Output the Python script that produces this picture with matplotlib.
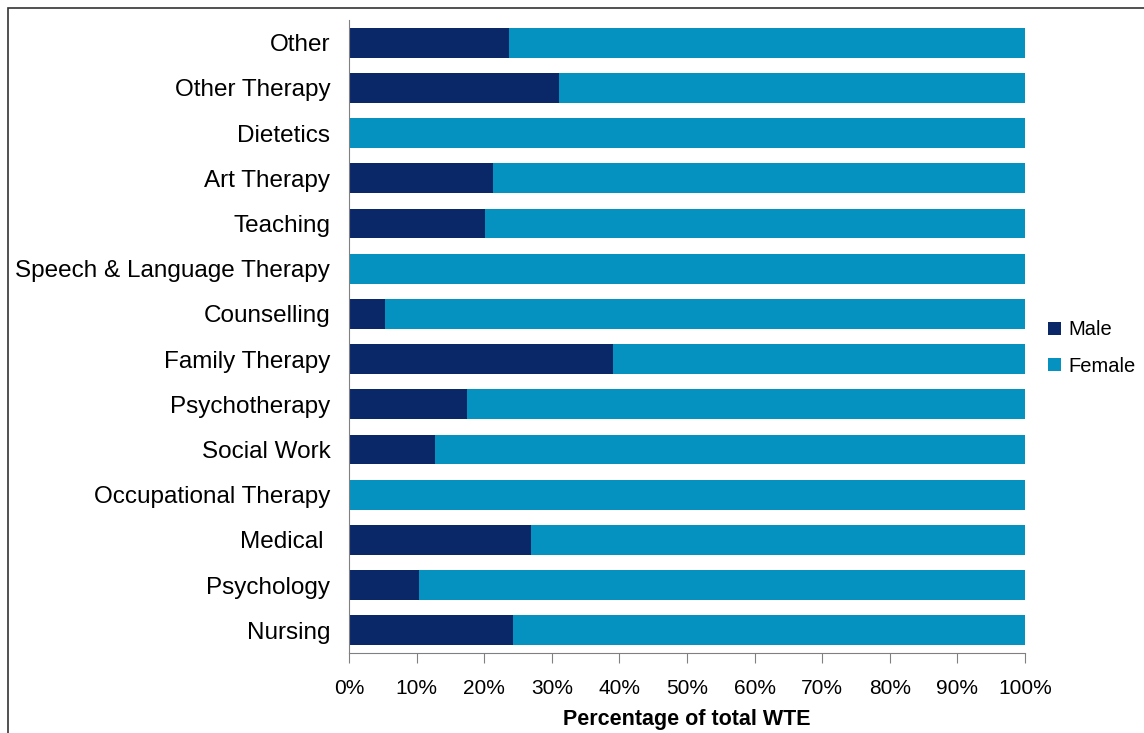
import matplotlib.pyplot as plt
from matplotlib.patches import Rectangle
from matplotlib.ticker import PercentFormatter

plt.rcParams['font.family'] = ['Liberation Sans', 'DejaVu Sans']

categories = ['Nursing', 'Psychology', 'Medical ', 'Occupational Therapy', 'Social Work',
              'Psychotherapy', 'Family Therapy', 'Counselling', 'Speech & Language Therapy',
              'Teaching', 'Art Therapy', 'Dietetics', 'Other Therapy', 'Other']
male = [24.3, 10.4, 26.9, 0, 12.7, 17.5, 39.1, 5.3, 0, 20.1, 21.3, 0, 31.1, 23.7]
female = [100 - m for m in male]

male_color = '#0a2868'
female_color = '#0592c0'

fig = plt.figure(figsize=(11.44, 7.33), dpi=100)
ax = fig.add_axes([349 / 1144, 1 - 653 / 733, 676 / 1144, 633 / 733])

y = range(len(categories))
ax.barh(y, male, height=0.66, color=male_color, label='Male')
ax.barh(y, female, left=male, height=0.66, color=female_color, label='Female')

ax.set_xlim(0, 100)
ax.set_ylim(-0.5, len(categories) - 0.5)
ax.set_yticks(list(y))
ax.set_yticklabels(categories, fontsize=17.5)
ax.set_xticks(range(0, 101, 10))
ax.xaxis.set_major_formatter(PercentFormatter(decimals=0))
ax.tick_params(axis='x', labelsize=15, length=7, color='#808080', pad=12)
ax.tick_params(axis='y', length=0, pad=13.5)
ax.set_xlabel('Percentage of total WTE', fontsize=15.5, fontweight='bold', labelpad=8)

for s in ['top', 'right']:
    ax.spines[s].set_visible(False)
for s in ['left', 'bottom']:
    ax.spines[s].set_color('#808080')

ax.legend(loc='center left', bbox_to_anchor=(1040 / 1144, 1 - 348 / 733),
          bbox_transform=fig.transFigure, frameon=False, fontsize=14.5,
          handlelength=0.65, handleheight=0.65, handletextpad=0.35, labelspacing=0.85,
          borderaxespad=0)

fig.patches.append(Rectangle((8 / 1144, -0.1), 1.2, 1 - 8 / 733 + 0.1,
                             transform=fig.transFigure, fill=False,
                             edgecolor='#333333', linewidth=1.2))

fig.savefig('out.png', dpi=100)
